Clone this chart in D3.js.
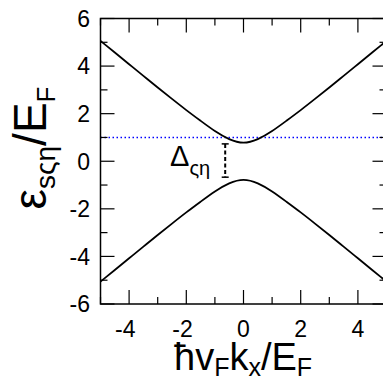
<!DOCTYPE html>
<html>
<head>
<meta charset="utf-8">
<script src="https://cdn.jsdelivr.net/npm/d3@7"></script>
<style>
  html, body { margin: 0; padding: 0; background: #fff; }
  svg { display: block; }
  text { font-family: "Liberation Sans", Arial, sans-serif; fill: #000; }
</style>
</head>
<body>
<script>
// Band dispersion: momentum samples and the two branches (in units of E_F)
const kValues    = [-5, -4.5, -4, -3.5, -3, -2.5, -2, -1.5, -1, -0.5, 0, 0.5, 1, 1.5, 2, 2.5, 3, 3.5, 4, 4.5, 5];
const upperBand  = [5.06, 4.57, 4.08, 3.59, 3.10, 2.62, 2.15, 1.70, 1.27, 0.93, 0.78, 0.93, 1.27, 1.70, 2.15, 2.62, 3.10, 3.59, 4.08, 4.57, 5.06];
const lowerBand  = [-5.06, -4.57, -4.08, -3.59, -3.10, -2.62, -2.15, -1.70, -1.27, -0.93, -0.78, -0.93, -1.27, -1.70, -2.15, -2.62, -3.10, -3.59, -4.08, -4.57, -5.06];

// Fermi level reference line and the gap marker
const fermiLevel = 1;
const gapK = -0.64;
const gapTop = 0.73;
const gapBottom = -0.67;

// Axis ticks
const xMajorTicks = [-4, -2, 0, 2, 4];
const xMinorTicks = [-5, -3, -1, 1, 3, 5];
const yMajorTicks = [-6, -4, -2, 0, 2, 4, 6];
const yMinorTicks = [-5, -3, -1, 1, 3, 5];

const W = 383, H = 379;
const svg = d3.select("body").append("svg").attr("width", W).attr("height", H);

const x = d3.scaleLinear().domain([-5, 5]).range([100.5, 386.5]);
const y = d3.scaleLinear().domain([-6, 6]).range([304, 18.5]);

const plot = svg.append("g");

// Fermi level (dotted blue)
plot.append("line")
  .attr("x1", x(-5)).attr("x2", x(5))
  .attr("y1", y(fermiLevel)).attr("y2", y(fermiLevel))
  .attr("stroke", "#0000ff").attr("stroke-width", 1.5)
  .attr("stroke-dasharray", "1.5,2.5");

// Bands
const line = d3.line().x((d, i) => x(kValues[i])).y(d => y(d)).curve(d3.curveNatural);
[upperBand, lowerBand].forEach(band => {
  plot.append("path")
    .attr("d", line(band))
    .attr("fill", "none").attr("stroke", "#000").attr("stroke-width", 1.8);
});

// Gap marker: dashed vertical with end caps
plot.append("line")
  .attr("x1", x(gapK)).attr("x2", x(gapK))
  .attr("y1", y(gapTop)).attr("y2", y(gapBottom))
  .attr("stroke", "#000").attr("stroke-width", 2)
  .attr("stroke-dasharray", "4,2.5");
[gapTop, gapBottom].forEach(v => {
  plot.append("line")
    .attr("x1", x(gapK) - 3.5).attr("x2", x(gapK) + 3.5)
    .attr("y1", y(v)).attr("y2", y(v))
    .attr("stroke", "#000").attr("stroke-width", 1.5);
});

// Gap label Δ_ςη
const gl = svg.append("text").attr("x", 170).attr("y", 166);
gl.append("tspan").attr("font-size", 29).text("Δ");
gl.append("tspan").attr("font-size", 20).attr("dy", 9).text("ςη");

// Frame
svg.append("rect")
  .attr("x", x(-5)).attr("y", y(6))
  .attr("width", x(5) - x(-5)).attr("height", y(-6) - y(6))
  .attr("fill", "none").attr("stroke", "#000").attr("stroke-width", 1.5);

// Inward ticks on all four sides
const ticks = svg.append("g").attr("stroke", "#000").attr("stroke-width", 1.2);
const majorLen = 14, minorLen = 7;
function xTicks(vals, len) {
  vals.forEach(v => {
    ticks.append("line").attr("x1", x(v)).attr("x2", x(v)).attr("y1", y(-6)).attr("y2", y(-6) - len);
    ticks.append("line").attr("x1", x(v)).attr("x2", x(v)).attr("y1", y(6)).attr("y2", y(6) + len);
  });
}
function yTicks(vals, len) {
  vals.forEach(v => {
    ticks.append("line").attr("y1", y(v)).attr("y2", y(v)).attr("x1", x(-5)).attr("x2", x(-5) + len);
    ticks.append("line").attr("y1", y(v)).attr("y2", y(v)).attr("x1", x(5)).attr("x2", x(5) - len);
  });
}
xTicks(xMajorTicks, majorLen);
xTicks(xMinorTicks, minorLen);
yTicks(yMajorTicks, majorLen);
yTicks(yMinorTicks, minorLen);

// Tick labels (digit centred on tick, minus sign hangs left)
const tickFont = 23;
svg.append("g").selectAll("text").data(xMajorTicks).join("text")
  .attr("x", d => x(d) + 6.4)
  .attr("y", 337)
  .attr("text-anchor", "end")
  .attr("font-size", tickFont)
  .text(d => d);
svg.append("g").selectAll("text").data(yMajorTicks).join("text")
  .attr("x", 90)
  .attr("y", d => y(d))
  .attr("dy", "0.36em")
  .attr("text-anchor", "end")
  .attr("font-size", tickFont)
  .text(d => d);

// X axis title: ħv_F k_x / E_F
const xt = svg.append("text").attr("x", 174).attr("y", 370).attr("font-size", 38);
xt.append("tspan").text("ħv");
xt.append("tspan").attr("font-size", 25).attr("dy", 6).text("F");
xt.append("tspan").attr("dy", -6).text("k");
xt.append("tspan").attr("font-size", 25).attr("dy", 6).text("x");
xt.append("tspan").attr("dy", -6).text("/E");
xt.append("tspan").attr("font-size", 25).attr("dy", 6).text("F");

// Y axis title: ε_sςη / E_F
const yt = svg.append("text")
  .attr("transform", "translate(46,148) rotate(-90)")
  .attr("text-anchor", "middle").attr("font-size", 46);
yt.append("tspan").text("ε");
yt.append("tspan").attr("font-size", 28).attr("dy", 9).text("sςη");
yt.append("tspan").attr("dy", -9).text("/E");
yt.append("tspan").attr("font-size", 26).attr("dy", 9).text("F");
</script>
</body>
</html>
